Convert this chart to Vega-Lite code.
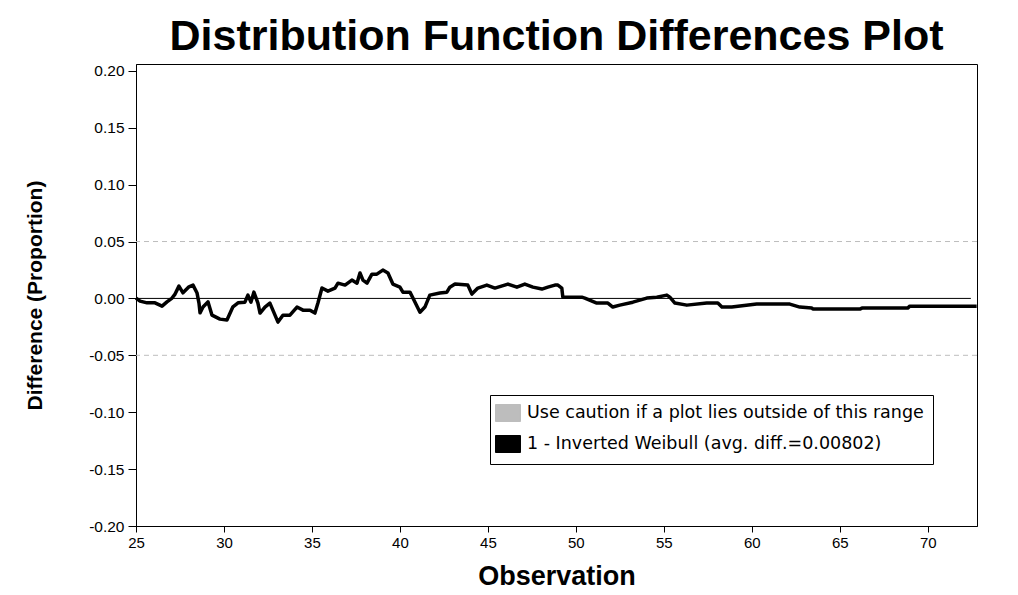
{
  "$schema": "https://vega.github.io/schema/vega-lite/v6.json",
  "width": 841,
  "height": 462,
  "autosize": {"type": "none"},
  "padding": {"left": 136, "top": 64, "right": 41, "bottom": 69},
  "background": "white",
  "title": {"text": "Distribution Function Differences Plot", "fontSize": 43, "font": "Liberation Sans", "fontWeight": "bold", "anchor": "middle", "offset": 5, "color": "black"},
  "config": {
    "font": "Liberation Sans",
    "view": {"stroke": "black", "strokeWidth": 1},
    "axis": {"grid": false, "domainColor": "black", "tickColor": "black", "labelColor": "black", "titleColor": "black", "labelFont": "Liberation Sans", "titleFont": "Liberation Sans", "titleFontWeight": "bold"}
  },
  "datasets": {
    "limits": [{"level": 0.05}, {"level": -0.05}],
    "zero": [{"level": 0, "from": 25, "to": 72.45}],
    "diff": [
      {"obs":25.00,"diff":0.0003},{"obs":25.23,"diff":-0.0024},{"obs":25.63,"diff":-0.0039},{"obs":26.08,"diff":-0.0039},
      {"obs":26.48,"diff":-0.0068},{"obs":26.76,"diff":-0.0030},{"obs":27.05,"diff":0.0003},{"obs":27.22,"diff":0.0038},
      {"obs":27.44,"diff":0.0108},{"obs":27.67,"diff":0.0049},{"obs":28.01,"diff":0.0102},{"obs":28.24,"diff":0.0117},
      {"obs":28.47,"diff":0.0047},{"obs":28.58,"diff":-0.0041},{"obs":28.64,"diff":-0.0127},{"obs":28.81,"diff":-0.0076},
      {"obs":29.09,"diff":-0.0030},{"obs":29.32,"diff":-0.0147},{"obs":29.77,"diff":-0.0182},{"obs":30.17,"diff":-0.0190},
      {"obs":30.51,"diff":-0.0074},{"obs":30.80,"diff":-0.0039},{"obs":31.19,"diff":-0.0033},{"obs":31.36,"diff":0.0029},
      {"obs":31.53,"diff":-0.0033},{"obs":31.70,"diff":0.0055},{"obs":31.93,"diff":-0.0041},{"obs":32.05,"diff":-0.0129},
      {"obs":32.33,"diff":-0.0076},{"obs":32.61,"diff":-0.0041},{"obs":32.78,"diff":-0.0103},{"obs":33.07,"diff":-0.0208},
      {"obs":33.35,"diff":-0.0147},{"obs":33.75,"diff":-0.0147},{"obs":34.15,"diff":-0.0076},{"obs":34.49,"diff":-0.0103},
      {"obs":34.89,"diff":-0.0103},{"obs":35.17,"diff":-0.0129},{"obs":35.34,"diff":-0.0041},{"obs":35.57,"diff":0.0091},
      {"obs":35.91,"diff":0.0064},{"obs":36.31,"diff":0.0091},{"obs":36.48,"diff":0.0134},{"obs":36.88,"diff":0.0117},
      {"obs":37.27,"diff":0.0161},{"obs":37.56,"diff":0.0134},{"obs":37.73,"diff":0.0224},{"obs":37.90,"diff":0.0161},
      {"obs":38.13,"diff":0.0134},{"obs":38.41,"diff":0.0213},{"obs":38.69,"diff":0.0213},{"obs":39.03,"diff":0.0249},
      {"obs":39.32,"diff":0.0224},{"obs":39.60,"diff":0.0126},{"obs":40.00,"diff":0.0099},{"obs":40.17,"diff":0.0055},
      {"obs":40.57,"diff":0.0055},{"obs":40.74,"diff":0.0003},{"obs":41.14,"diff":-0.0121},{"obs":41.42,"diff":-0.0076},
      {"obs":41.70,"diff":0.0029},{"obs":42.27,"diff":0.0047},{"obs":42.67,"diff":0.0055},{"obs":42.84,"diff":0.0099},
      {"obs":43.13,"diff":0.0126},{"obs":43.86,"diff":0.0117},{"obs":44.09,"diff":0.0038},{"obs":44.43,"diff":0.0091},
      {"obs":44.94,"diff":0.0117},{"obs":45.40,"diff":0.0091},{"obs":46.14,"diff":0.0126},{"obs":46.65,"diff":0.0099},
      {"obs":47.10,"diff":0.0126},{"obs":47.56,"diff":0.0099},{"obs":48.07,"diff":0.0082},{"obs":48.41,"diff":0.0099},
      {"obs":48.81,"diff":0.0117},{"obs":48.98,"diff":0.0117},{"obs":49.20,"diff":0.0091},{"obs":49.26,"diff":0.0011},
      {"obs":50.34,"diff":0.0011},{"obs":50.51,"diff":0.0003},{"obs":51.19,"diff":-0.0041},{"obs":51.82,"diff":-0.0041},
      {"obs":52.10,"diff":-0.0076},{"obs":52.50,"diff":-0.0059},{"obs":53.24,"diff":-0.0033},{"obs":54.03,"diff":0.0003},
      {"obs":54.60,"diff":0.0011},{"obs":55.17,"diff":0.0029},{"obs":55.34,"diff":0.0011},{"obs":55.63,"diff":-0.0041},
      {"obs":56.31,"diff":-0.0059},{"obs":57.44,"diff":-0.0041},{"obs":58.07,"diff":-0.0041},{"obs":58.30,"diff":-0.0076},
      {"obs":58.86,"diff":-0.0076},{"obs":60.28,"diff":-0.0050},{"obs":62.16,"diff":-0.0050},{"obs":62.73,"diff":-0.0076},
      {"obs":63.41,"diff":-0.0085},{"obs":63.47,"diff":-0.0094},{"obs":66.14,"diff":-0.0094},{"obs":66.26,"diff":-0.0085},
      {"obs":68.86,"diff":-0.0085},{"obs":68.98,"diff":-0.0068},{"obs":72.78,"diff":-0.0068}
    ]
  },
  "layer": [
    {
      "data": {"name": "limits"},
      "mark": {"type": "rule", "color": "#bdbdbd", "strokeDash": [5, 4], "strokeWidth": 1},
      "encoding": {"y": {"field": "level", "type": "quantitative", "title": "Difference (Proportion)"}}
    },
    {
      "data": {"name": "zero"},
      "mark": {"type": "rule", "color": "black", "strokeWidth": 1},
      "encoding": {
        "y": {"field": "level", "type": "quantitative", "title": "Difference (Proportion)"},
        "x": {"field": "from", "type": "quantitative", "title": "Observation"},
        "x2": {"field": "to"}
      }
    },
    {
      "data": {"name": "diff"},
      "mark": {"type": "line", "strokeWidth": 3.5, "strokeJoin": "round"},
      "encoding": {
        "x": {
          "field": "obs", "type": "quantitative",
          "scale": {"domain": [25, 72.8], "nice": false, "zero": false},
          "axis": {"values": [25, 30, 35, 40, 45, 50, 55, 60, 65, 70], "title": "Observation", "titleFontSize": 27, "labelFontSize": 15, "tickSize": 6, "labelPadding": 3, "titleBaseline": "alphabetic", "titlePadding": 34, "labelFlush": false}
        },
        "y": {
          "field": "diff", "type": "quantitative",
          "scale": {"domain": [-0.2, 0.206], "nice": false, "zero": false},
          "axis": {"values": [-0.2, -0.15, -0.1, -0.05, 0, 0.05, 0.1, 0.15, 0.2], "labelExpr": "replace(format(datum.value, '.2f'), '\u2212', '-')", "title": "Difference (Proportion)", "titleFontSize": 21, "labelFontSize": 15.5, "tickSize": 8, "labelPadding": 4, "titlePadding": 43}
        },
        "color": {
          "datum": "1 - Inverted Weibull (avg. diff.=0.00802)", "type": "nominal",
          "scale": {"domain": ["Use caution if a plot lies outside of this range", "1 - Inverted Weibull (avg. diff.=0.00802)"], "range": ["#bdbdbd", "black"]},
          "legend": {
            "title": null, "orient": "none", "legendX": 354, "legendY": 331, "direction": "vertical",
            "strokeColor": "black", "fillColor": "white", "padding": 9, "rowPadding": 9,
            "labelFont": "DejaVu Sans", "labelFontSize": 17.5, "labelColor": "black", "labelOffset": 10, "labelLimit": 600,
            "symbolType": "M-1.47,-1H1.47V1H-1.47Z", "symbolSize": 289, "symbolStrokeWidth": 1, "symbolStrokeColor": "black",
            "encode": {"symbols": {"update": {"fill": {"scale": "color", "field": "value"}, "stroke": {"value": "black"}, "strokeWidth": {"value": 1}, "opacity": {"value": 1}}}}
          }
        }
      }
    }
  ]
}
